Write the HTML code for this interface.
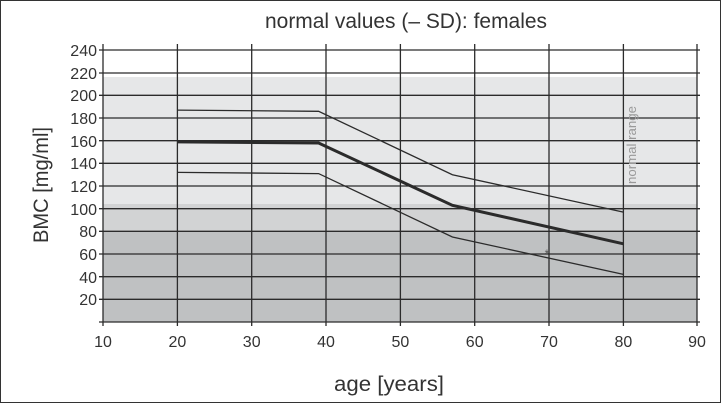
<!DOCTYPE html>
<html><head><style>html,body{margin:0;padding:0;background:#fff}svg{display:block}</style></head>
<body>
<svg width="721" height="403" xmlns="http://www.w3.org/2000/svg" font-family="'Liberation Sans',sans-serif" fill="#333">
<rect x="0.5" y="0.5" width="720" height="402" fill="#fff" stroke="#333"/>
<rect x="103" y="77" width="594" height="127" fill="#e6e7e8"/>
<rect x="103" y="204" width="594" height="27" fill="#d2d3d4"/>
<rect x="103" y="231" width="594" height="91" fill="#bfc1c2"/>
<g stroke="#2b2b2b" stroke-width="1.3">
<line x1="99" y1="50" x2="700" y2="50"/><line x1="99" y1="73" x2="700" y2="73"/><line x1="99" y1="95.3" x2="700" y2="95.3"/><line x1="99" y1="118" x2="700" y2="118"/><line x1="99" y1="140.7" x2="700" y2="140.7"/><line x1="99" y1="163.3" x2="700" y2="163.3"/><line x1="99" y1="186" x2="700" y2="186"/><line x1="99" y1="208.7" x2="700" y2="208.7"/><line x1="99" y1="231.3" x2="700" y2="231.3"/><line x1="99" y1="254" x2="700" y2="254"/><line x1="99" y1="276.7" x2="700" y2="276.7"/><line x1="99" y1="299.3" x2="700" y2="299.3"/><line x1="99" y1="322" x2="700" y2="322"/>
<line x1="103" y1="44" x2="103" y2="326"/><line x1="177.4" y1="44" x2="177.4" y2="326"/><line x1="251.7" y1="44" x2="251.7" y2="326"/><line x1="326" y1="44" x2="326" y2="326"/><line x1="400.4" y1="44" x2="400.4" y2="326"/><line x1="474.7" y1="44" x2="474.7" y2="326"/><line x1="549" y1="44" x2="549" y2="326"/><line x1="623.4" y1="44" x2="623.4" y2="326"/><line x1="697" y1="44" x2="697" y2="326"/>
</g>
<g fill="none" stroke="#2b2b2b">
<polyline stroke-width="1.3" points="177.4,110.1 318.6,111.3 452.4,174.7 623.4,212.1"/>
<polyline stroke-width="3" points="177.4,141.9 318.6,143 452.4,205.3 623.4,243.8"/>
<polyline stroke-width="1.3" points="177.4,172.4 318.6,173.6 452.4,237 623.4,274.4"/>
</g>
<text x="547" y="258" font-size="12" text-anchor="middle" fill="#555">*</text>
<text x="636" y="145" font-size="13" fill="#999" transform="rotate(-90 636 145)" text-anchor="middle" textLength="78" lengthAdjust="spacingAndGlyphs">normal range</text>
<g font-size="16" text-anchor="end">
<text x="97" y="56">240</text><text x="97" y="79">220</text><text x="97" y="101">200</text><text x="97" y="124">180</text><text x="97" y="147">160</text><text x="97" y="169">140</text><text x="97" y="192">120</text><text x="97" y="215">100</text><text x="97" y="237">80</text><text x="97" y="260">60</text><text x="97" y="283">40</text><text x="97" y="305">20</text>
</g>
<g font-size="16" text-anchor="middle">
<text x="103" y="347">10</text><text x="177.4" y="347">20</text><text x="251.7" y="347">30</text><text x="326" y="347">40</text><text x="400.4" y="347">50</text><text x="474.7" y="347">60</text><text x="549" y="347">70</text><text x="623.4" y="347">80</text><text x="697" y="347">90</text>
</g>
<text x="406" y="28" font-size="21" text-anchor="middle" textLength="282" lengthAdjust="spacingAndGlyphs">normal values (– SD): females</text>
<text x="389" y="391" font-size="21" text-anchor="middle" textLength="110" lengthAdjust="spacingAndGlyphs">age [years]</text>
<text x="48" y="185" font-size="21" text-anchor="middle" transform="rotate(-90 48 185)" textLength="116" lengthAdjust="spacingAndGlyphs">BMC [mg/ml]</text>
</svg>
</body></html>
